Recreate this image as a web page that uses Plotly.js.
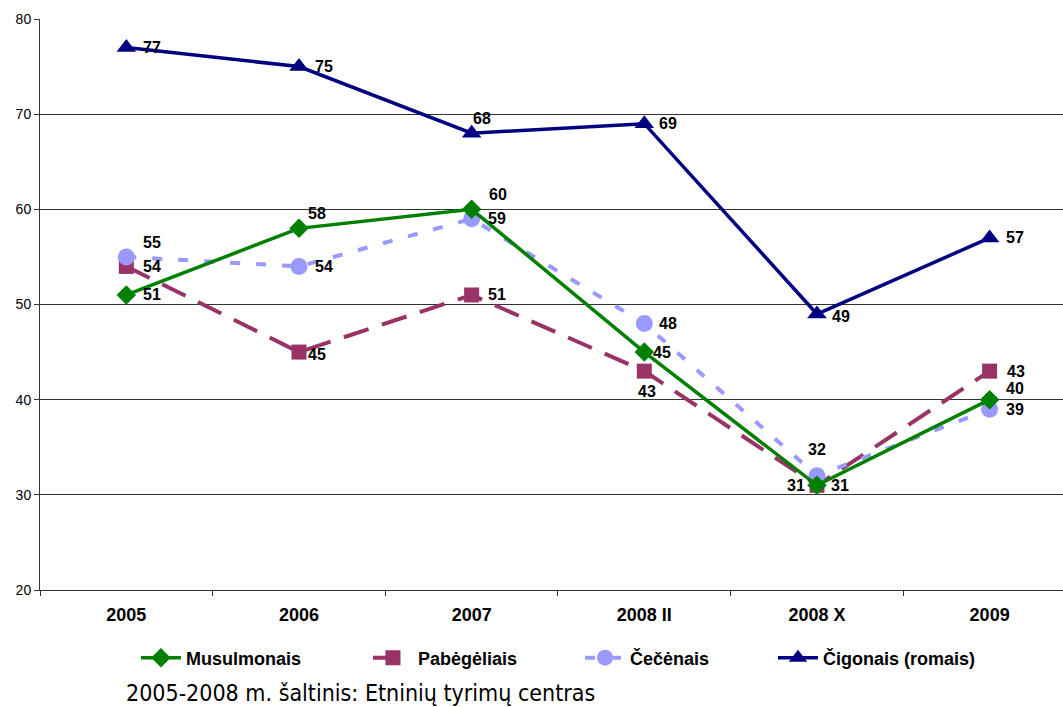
<!DOCTYPE html>
<html>
<head>
<meta charset="utf-8">
<script src="https://cdn.plot.ly/plotly-3.0.1.min.js"></script>
<style>html,body{margin:0;padding:0;background:#fff;}#chart{width:1063px;height:707px;}</style>
</head>
<body>
<div id="chart"></div>
<script>
const categories = ["2005", "2006", "2007", "2008 II", "2008 X", "2009"];
const musulmonais = [51, 58, 60, 45, 31, 40];
const pabegeliais = [54, 45, 51, 43, 31, 43];
const cecenais = [55, 54, 59, 48, 32, 39];
const cigonais = [77, 75, 68, 69, 49, 57];
const seriesNames = ["Musulmonais", "Pabėgėliais", "Čečėnais", "Čigonais (romais)"];
const sourceNote = "2005-2008 m. šaltinis: Etninių tyrimų centras";

// label offsets in pixels [xshift, yshift] per point
const offMus = [[26,0],[18,15],[26,15],[18,0],[-21,0],[25,11]];
const offPab = [[26,0],[18,-2],[25,0],[3,-20],[23,0],[26,0]];
const offCec = [[26,14],[25,0],[25,0],[24,0],[0,26],[25,0]];
const offCig = [[26,0],[25,0],[10,15],[24,0],[24,-2],[25,0]];

const boldFont = (s) => ({family: "Liberation Sans, Arial, sans-serif", size: s, color: "#000", weight: "bold"});
const lblFont = boldFont(16);

const traces = [
  {name: seriesNames[1], x: categories, y: pabegeliais, type: "scatter", mode: "lines+markers",
   line: {color: "#993366", width: 4, dash: "26px,14px"},
   marker: {symbol: "square", size: 15, color: "#993366"}, legend: "legend2"},
  {name: seriesNames[2], x: categories, y: cecenais, type: "scatter", mode: "lines+markers",
   line: {color: "#9999FF", width: 4, dash: "10px,16px"},
   marker: {symbol: "circle", size: 17, color: "#9999FF"}, legend: "legend3"},
  {name: seriesNames[0], x: categories, y: musulmonais, type: "scatter", mode: "lines+markers",
   line: {color: "#008000", width: 3.5},
   marker: {symbol: "diamond", size: 15, color: "#008000"}, legend: "legend"},
  {name: seriesNames[3], x: categories, y: cigonais, type: "scatter", mode: "lines+markers",
   line: {color: "#000080", width: 3.5},
   marker: {symbol: "triangle-up", size: 17, color: "#000080"}, legend: "legend4"}
];

const annotations = [];
function addLabels(vals, offs) {
  vals.forEach((v, i) => {
    annotations.push({x: i, y: v, xref: "x", yref: "y", text: String(v), showarrow: false,
      xanchor: "center", yanchor: "middle", xshift: offs[i][0], yshift: offs[i][1], font: lblFont});
  });
}
addLabels(musulmonais, offMus);
addLabels(pabegeliais, offPab);
addLabels(cecenais, offCec);
addLabels(cigonais, offCig);

annotations.push({xref: "paper", yref: "paper", x: 0.083, y: -0.2049, xanchor: "left", yanchor: "bottom",
  text: sourceNote, showarrow: false, borderpad: 0,
  font: {family: "DejaVu Sans Condensed, DejaVu Sans, sans-serif", size: 23, color: "#000"}});

function legendAt(x) {
  return {orientation: "h", x: x, xanchor: "left", y: -0.119, yanchor: "middle",
    font: boldFont(18), itemwidth: 40, bgcolor: "rgba(0,0,0,0)"};
}

const layout = {
  width: 1063, height: 707,
  margin: {l: 40, r: 0, t: 19, b: 117, pad: 0},
  paper_bgcolor: "#fff", plot_bgcolor: "#fff",
  showlegend: true,
  legend: legendAt(0.0938),
  legend2: legendAt(0.3206),
  legend3: legendAt(0.5279),
  legend4: legendAt(0.7165),
  xaxis: {type: "category", range: [-0.5, 5.425], showgrid: false, showline: true, linecolor: "#333", linewidth: 1,
    ticks: "outside", tickson: "boundaries", ticklen: 5, tickcolor: "#333",
    tickfont: boldFont(18), ticklabelstandoff: 8, zeroline: false},
  yaxis: {range: [20, 80], dtick: 10, tick0: 20, showgrid: true, gridcolor: "#333", gridwidth: 1,
    showline: true, linecolor: "#333", linewidth: 1, ticks: "outside", ticklen: 5, tickcolor: "#333",
    tickfont: {family: "Liberation Sans, Arial, sans-serif", size: 14, color: "#000"}, zeroline: false},
  annotations: annotations
};

Plotly.newPlot("chart", traces, layout, {displayModeBar: false, staticPlot: true});
</script>
</body>
</html>
